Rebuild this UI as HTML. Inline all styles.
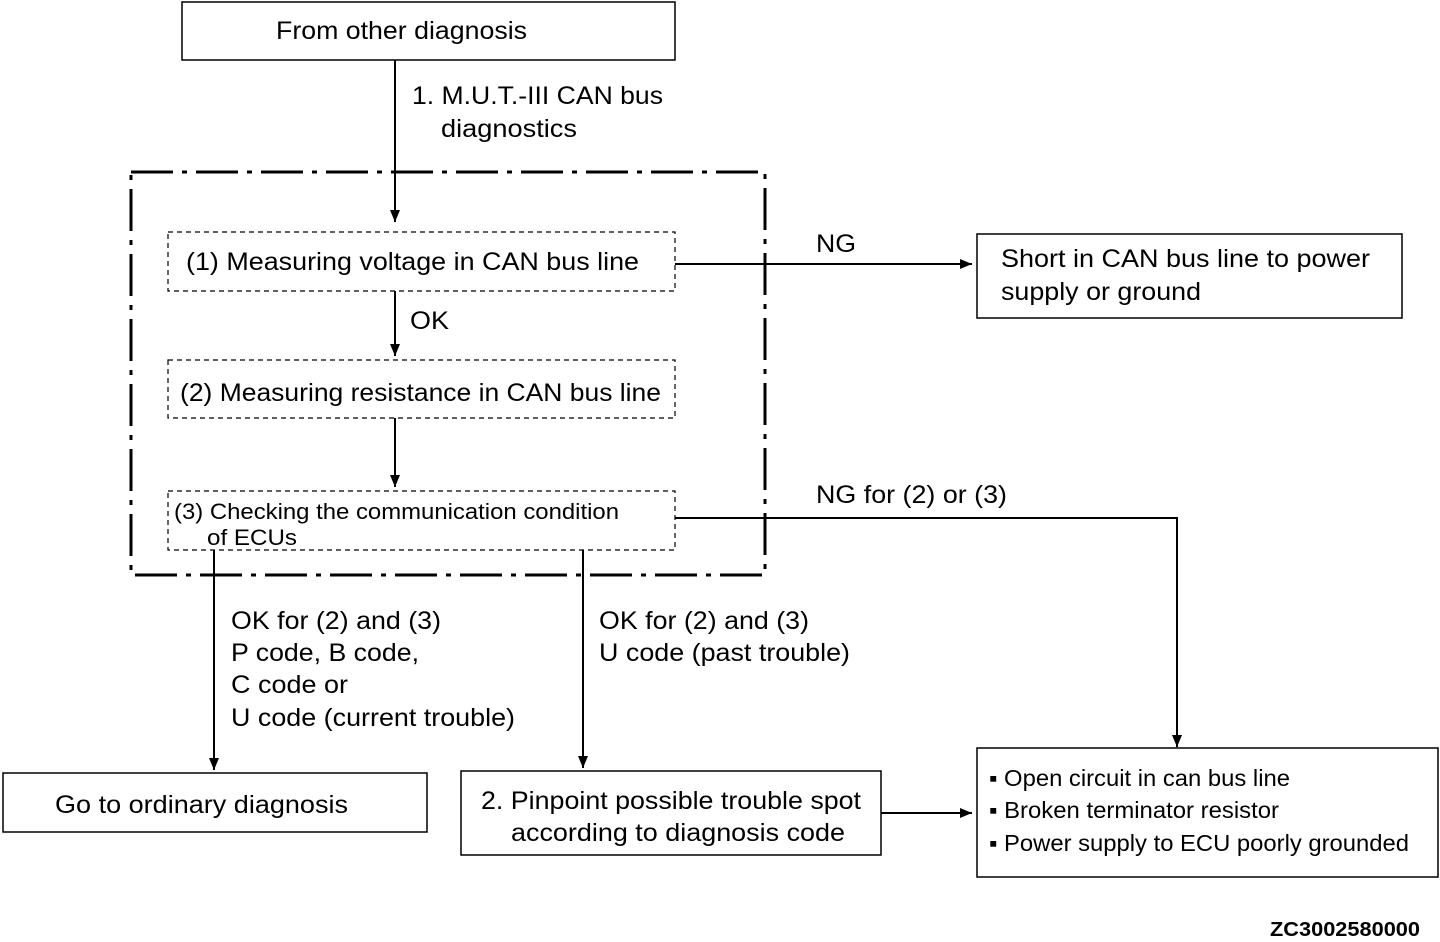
<!DOCTYPE html>
<html><head><meta charset="utf-8"><style>
html,body{margin:0;padding:0;background:#fff;}
svg{display:block;}
text{font-family:"Liberation Sans",Arial,sans-serif;fill:#000;}
</style></head><body>
<svg width="1440" height="942" viewBox="0 0 1440 942" xmlns="http://www.w3.org/2000/svg">
<defs>
<marker id="a" markerWidth="12" markerHeight="10" refX="12" refY="5" orient="auto" markerUnits="userSpaceOnUse">
<path d="M0,0 L12,5 L0,10 Z" fill="#000"/></marker>
</defs>
<g fill="none" stroke="#000">
<rect x="182" y="2" width="493" height="58" stroke-width="1.5"/>
<rect x="131" y="172" width="634" height="403" stroke-width="3" stroke-dasharray="42 9 5 9"/>
<rect x="168" y="232" width="507" height="59" stroke-width="1.2" stroke-dasharray="5 4"/>
<rect x="168" y="360" width="507" height="58" stroke-width="1.2" stroke-dasharray="5 4"/>
<rect x="168" y="491" width="507" height="59" stroke-width="1.2" stroke-dasharray="5 4"/>
<rect x="977" y="234" width="425" height="84" stroke-width="1.5"/>
<rect x="3" y="773" width="424" height="59" stroke-width="1.5"/>
<rect x="461" y="771" width="420" height="84" stroke-width="1.5"/>
<rect x="977" y="748" width="461" height="129" stroke-width="1.5"/>
<g stroke-width="2">
<line x1="395" y1="60" x2="395" y2="222" marker-end="url(#a)"/>
<line x1="675" y1="264" x2="972" y2="264" marker-end="url(#a)"/>
<line x1="395" y1="291" x2="395" y2="356" marker-end="url(#a)"/>
<line x1="395" y1="418" x2="395" y2="487" marker-end="url(#a)"/>
<polyline points="675,518 1177,518 1177,747" marker-end="url(#a)"/>
<line x1="214" y1="550" x2="214" y2="770" marker-end="url(#a)"/>
<line x1="583" y1="550" x2="583" y2="768" marker-end="url(#a)"/>
<line x1="881" y1="813" x2="972" y2="813" marker-end="url(#a)"/>
</g>
</g>
<g font-size="25" lengthAdjust="spacingAndGlyphs">
<text x="276" y="39" textLength="251" lengthAdjust="spacingAndGlyphs">From other diagnosis</text>
<text x="412" y="104" textLength="251" lengthAdjust="spacingAndGlyphs">1. M.U.T.-III CAN bus</text>
<text x="441" y="137" textLength="136" lengthAdjust="spacingAndGlyphs">diagnostics</text>
<text x="186" y="270" textLength="453" lengthAdjust="spacingAndGlyphs">(1) Measuring voltage in CAN bus line</text>
<text x="816" y="252" textLength="40" lengthAdjust="spacingAndGlyphs">NG</text>
<text x="1001" y="267" textLength="369" lengthAdjust="spacingAndGlyphs">Short in CAN bus line to power</text>
<text x="1001" y="300" textLength="200" lengthAdjust="spacingAndGlyphs">supply or ground</text>
<text x="410" y="329" textLength="39" lengthAdjust="spacingAndGlyphs">OK</text>
<text x="180" y="401" textLength="481" lengthAdjust="spacingAndGlyphs">(2) Measuring resistance in CAN bus line</text>
<text x="816" y="503" textLength="191" lengthAdjust="spacingAndGlyphs">NG for (2) or (3)</text>
<text x="231" y="629" textLength="210" lengthAdjust="spacingAndGlyphs">OK for (2) and (3)</text>
<text x="231" y="661" textLength="188" lengthAdjust="spacingAndGlyphs">P code, B code,</text>
<text x="231" y="693" textLength="117" lengthAdjust="spacingAndGlyphs">C code or</text>
<text x="231" y="726" textLength="284" lengthAdjust="spacingAndGlyphs">U code (current trouble)</text>
<text x="599" y="629" textLength="210" lengthAdjust="spacingAndGlyphs">OK for (2) and (3)</text>
<text x="599" y="661" textLength="251" lengthAdjust="spacingAndGlyphs">U code (past trouble)</text>
<text x="55" y="813" textLength="293" lengthAdjust="spacingAndGlyphs">Go to ordinary diagnosis</text>
<text x="481" y="809" textLength="380" lengthAdjust="spacingAndGlyphs">2. Pinpoint possible trouble spot</text>
<text x="511" y="841" textLength="334" lengthAdjust="spacingAndGlyphs">according to diagnosis code</text>
</g>
<g font-size="22">
<text x="174" y="519" textLength="445" lengthAdjust="spacingAndGlyphs">(3) Checking the communication condition</text>
<text x="207" y="545" textLength="90" lengthAdjust="spacingAndGlyphs">of ECUs</text>
</g>
<g font-size="23">
<text x="989" y="786" textLength="301" lengthAdjust="spacingAndGlyphs">▪ Open circuit in can bus line</text>
<text x="989" y="818" textLength="290" lengthAdjust="spacingAndGlyphs">▪ Broken terminator resistor</text>
<text x="989" y="851" textLength="420" lengthAdjust="spacingAndGlyphs">▪ Power supply to ECU poorly grounded</text>
</g>
<text x="1270" y="936" font-size="20" font-weight="bold" textLength="150" lengthAdjust="spacingAndGlyphs">ZC3002580000</text>
</svg>
</body></html>
